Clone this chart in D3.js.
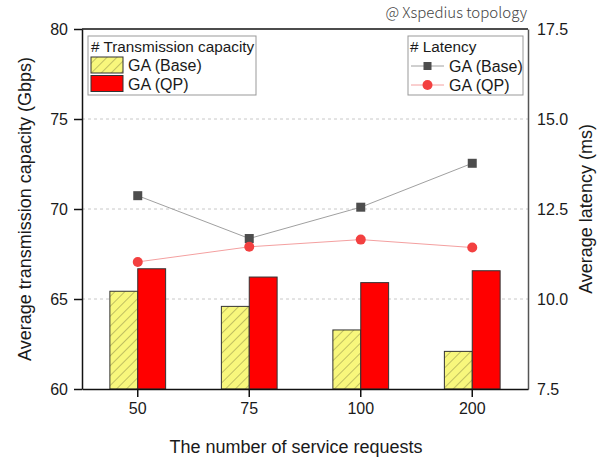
<!DOCTYPE html>
<html>
<head>
    <style>
        body { margin: 0; background: #fff; }
        svg text { font-family: "Liberation Sans", Arial, sans-serif; fill: #1a1a1a; }
        .grid line { stroke: #c8c8c8; stroke-dasharray: 3,3; }
        svg text.note { font-family: "Noto Sans CJK KR", "Noto Sans", sans-serif; font-weight: 300; fill: #444; }
    </style>
    <script src="https://d3js.org/d3.v7.min.js"></script>
</head>
<body>
    <svg width="602" height="458"></svg>
    <script>

    var requests = ["50", "75", "100", "200"];
    var capacityBase = [65.43, 64.59, 63.28, 62.09];
    var capacityQP = [66.68, 66.22, 65.91, 66.57];
    var latencyBase = [12.87, 11.68, 12.55, 13.77];
    var latencyQP = [11.03, 11.45, 11.65, 11.43];
    var capacityTicks = [60, 65, 70, 75, 80];
    var latencyTicks = [7.5, 10.0, 12.5, 15.0, 17.5];

    function drawChart() {
        var svg = d3.select("svg"),
            left = 82, right = 528, top = 29, bottom = 389;

        var x = d3.scaleBand().domain(requests).range([left, right]).padding(0);
        var barW = x.bandwidth() / 4;
        var yCap = d3.scaleLinear().domain([60, 80]).range([bottom, top]);
        var yLat = d3.scaleLinear().domain([7.5, 17.5]).range([bottom, top]);

        var defs = svg.append("defs");
        var hatch = defs.append("pattern")
            .attr("id", "hatch")
            .attr("patternUnits", "userSpaceOnUse")
            .attr("width", 7).attr("height", 7)
            .attr("patternTransform", "rotate(45)");
        hatch.append("rect").attr("width", 7).attr("height", 7).attr("fill", "#f8f77c");
        hatch.append("line").attr("x1", 0).attr("y1", 0).attr("x2", 0).attr("y2", 7)
            .attr("stroke", "#6b6b3a").attr("stroke-width", 0.8);

        // grid
        svg.append("g").attr("class", "grid")
            .selectAll("line")
            .data([65, 70, 75])
            .enter().append("line")
            .attr("x1", left).attr("x2", right)
            .attr("y1", function(d) { return yCap(d); })
            .attr("y2", function(d) { return yCap(d); });

        // bars
        var bars = [
            { values: capacityBase, fill: "url(#hatch)", off: -1 },
            { values: capacityQP, fill: "#ff0000", off: 0 }
        ];
        bars.forEach(function(s) {
            svg.append("g").selectAll("rect")
                .data(s.values)
                .enter().append("rect")
                .attr("x", function(d, i) { return x(requests[i]) + x.bandwidth() / 2 + s.off * barW; })
                .attr("y", function(d) { return yCap(d); })
                .attr("width", barW)
                .attr("height", function(d) { return bottom - yCap(d); })
                .attr("fill", s.fill)
                .attr("stroke", "#333")
                .attr("stroke-width", 1);
        });

        // latency lines
        var line = d3.line()
            .x(function(d, i) { return x(requests[i]) + x.bandwidth() / 2; })
            .y(function(d) { return yLat(d); });

        svg.append("path").datum(latencyBase)
            .attr("d", line).attr("fill", "none")
            .attr("stroke", "#a0a0a0").attr("stroke-width", 1);
        svg.append("path").datum(latencyQP)
            .attr("d", line).attr("fill", "none")
            .attr("stroke", "#f4a0a0").attr("stroke-width", 1);

        svg.append("g").selectAll("rect")
            .data(latencyBase)
            .enter().append("rect")
            .attr("x", function(d, i) { return x(requests[i]) + x.bandwidth() / 2 - 4.5; })
            .attr("y", function(d) { return yLat(d) - 4.5; })
            .attr("width", 9).attr("height", 9)
            .attr("fill", "#4d4d4d");
        svg.append("g").selectAll("circle")
            .data(latencyQP)
            .enter().append("circle")
            .attr("cx", function(d, i) { return x(requests[i]) + x.bandwidth() / 2; })
            .attr("cy", function(d) { return yLat(d); })
            .attr("r", 5)
            .attr("fill", "#f34040");

        // axes
        var leftAxis = svg.append("g")
            .attr("transform", "translate(" + left + ",0)")
            .call(d3.axisLeft(yCap).tickValues(capacityTicks).tickSize(8).tickPadding(6).tickSizeOuter(0));
        var rightAxis = svg.append("g")
            .attr("transform", "translate(" + right + ",0)")
            .call(d3.axisRight(yLat).tickValues(latencyTicks).tickSize(0).tickPadding(9)
                .tickFormat(d3.format(".1f")));
        var bottomAxis = svg.append("g")
            .attr("transform", "translate(0," + bottom + ")")
            .call(d3.axisBottom(x).tickSize(8).tickPadding(6).tickSizeOuter(0));

        [leftAxis, bottomAxis].forEach(function(a) {
            a.selectAll("path, line").attr("stroke", "#111").attr("stroke-width", 1.5);
            a.selectAll("text").attr("font-size", 16).attr("fill", "#1a1a1a");
        });
        rightAxis.select("path").attr("stroke", "#555").attr("stroke-width", 1.5);
        rightAxis.selectAll("text").attr("font-size", 16).attr("fill", "#1a1a1a");
        rightAxis.selectAll(".tick text").attr("dy", "0.35em");

        svg.append("line")
            .attr("x1", left).attr("x2", right)
            .attr("y1", top).attr("y2", top)
            .attr("stroke", "#111").attr("stroke-width", 1.5);

        // axis titles
        svg.append("text")
            .attr("transform", "translate(31," + ((top + bottom) / 2) + ") rotate(-90)")
            .attr("text-anchor", "middle")
            .attr("font-size", 18)
            .text("Average transmission capacity (Gbps)");
        svg.append("text")
            .attr("transform", "translate(592," + ((top + bottom) / 2) + ") rotate(-90)")
            .attr("text-anchor", "middle")
            .attr("font-size", 18)
            .text("Average latency (ms)");
        svg.append("text")
            .attr("x", 296).attr("y", 453)
            .attr("text-anchor", "middle")
            .attr("font-size", 18)
            .text("The number of service requests");

        svg.append("text")
            .attr("class", "note")
            .attr("x", 527).attr("y", 18)
            .attr("text-anchor", "end")
            .attr("font-size", 15)
            .text("@ Xspedius topology");

        // legend: transmission capacity
        var lg1 = svg.append("g").attr("transform", "translate(88,36)");
        lg1.append("rect").attr("width", 168).attr("height", 59)
            .attr("fill", "#fff").attr("stroke", "#999");
        lg1.append("text").attr("x", 3).attr("y", 16).attr("font-size", 15.3)
            .text("# Transmission capacity");
        var capNames = ["GA (Base)", "GA (QP)"];
        var capFills = ["url(#hatch)", "#ff0000"];
        capNames.forEach(function(n, i) {
            lg1.append("rect").attr("x", 3).attr("y", 21 + i * 18.5)
                .attr("width", 32).attr("height", 16)
                .attr("fill", capFills[i]).attr("stroke", "#333");
            lg1.append("text").attr("x", 40).attr("y", 35 + i * 19).attr("font-size", 16).text(n);
        });

        // legend: latency
        var lg2 = svg.append("g").attr("transform", "translate(408,36)");
        lg2.append("rect").attr("width", 115).attr("height", 59)
            .attr("fill", "#fff").attr("stroke", "#999");
        lg2.append("text").attr("x", 2).attr("y", 16).attr("font-size", 15.3).text("# Latency");
        var latNames = ["GA (Base)", "GA (QP)"];
        var latLines = ["#a0a0a0", "#f4a0a0"];
        latNames.forEach(function(n, i) {
            var cy = 30 + i * 19;
            lg2.append("line").attr("x1", 3).attr("x2", 36).attr("y1", cy).attr("y2", cy)
                .attr("stroke", latLines[i]);
            if (i === 0) {
                lg2.append("rect").attr("x", 15.5).attr("y", cy - 4).attr("width", 8).attr("height", 8)
                    .attr("fill", "#4d4d4d");
            } else {
                lg2.append("circle").attr("cx", 19.5).attr("cy", cy).attr("r", 5).attr("fill", "#f34040");
            }
            lg2.append("text").attr("x", 41).attr("y", cy + 6).attr("font-size", 16).text(n);
        });
    }
    drawChart();
    </script>
</body>
</html>
